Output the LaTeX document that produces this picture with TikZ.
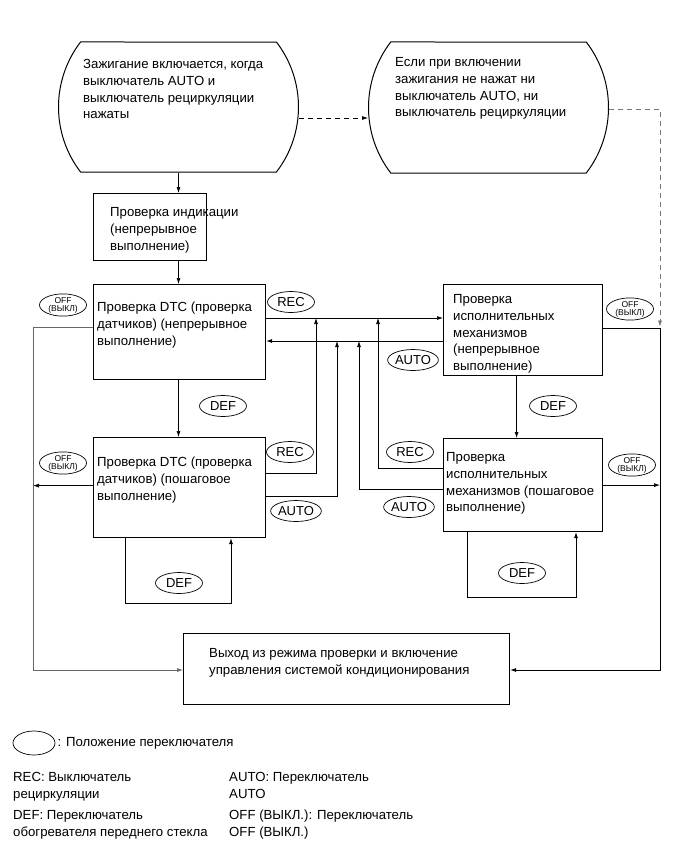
\documentclass[tikz,border=0pt]{standalone}
\usepackage{fontspec}
\setmainfont{Liberation Sans}
\usetikzlibrary{shapes.geometric,shapes.misc,arrows.meta}

\begin{document}
\begin{tikzpicture}[x=1pt,y=-1pt,
  >={Latex[length=6pt,width=4pt]},
  box/.style={draw,line width=1.2pt,anchor=north west,inner sep=0pt},
  capsule/.style={draw,line width=1pt,rounded rectangle,rounded rectangle arc length=75,anchor=west,inner sep=0pt},
  txt/.style={anchor=north west,inner sep=0pt,align=left,font=\fontsize{13.2}{16.7}\selectfont},
  sw/.style={draw,ellipse,line width=0.7pt,minimum width=47pt,minimum height=21pt,inner sep=0pt,font=\fontsize{13}{13}\selectfont},
  swoff/.style={sw,align=center,font=\fontsize{8.5}{8}\selectfont},
  line/.style={line width=0.7pt},
  dashline/.style={line width=0.7pt,dash pattern=on 5pt off 4pt}]
\useasboundingbox (0,0) rectangle (691,855);

\node[capsule,minimum width=240pt,minimum height=130pt] (startA) at (58,107) {};
\node[capsule,minimum width=240pt,minimum height=131pt] (startB) at (368,107.5) {};
\node[box,minimum width=113pt,minimum height=67pt] (ind) at (93,193) {};
\node[box,minimum width=172pt,minimum height=95pt] (dtcA) at (93,284) {};
\node[box,minimum width=172pt,minimum height=100pt] (dtcB) at (93,437) {};
\node[box,minimum width=159pt,minimum height=91pt] (actA) at (443,284) {};
\node[box,minimum width=159pt,minimum height=93pt] (actB) at (443,438) {};
\node[box,minimum width=326pt,minimum height=71pt] (exit) at (183,633) {};

\node[txt] (startAT) at (83,57) {\strut Зажигание включается, когда\\выключатель AUTO и\\выключатель рециркуляции\\нажаты};
\node[txt] (startBT) at (395,55) {\strut Если при включении\\зажигания не нажат ни\\выключатель AUTO, ни\\выключатель рециркуляции};
\node[txt] (indT) at (110,205) {\strut Проверка индикации\\(непрерывное\\выполнение)};
\node[txt] (dtcAT) at (97,300) {\strut Проверка DTC (проверка\\датчиков) (непрерывное\\выполнение)};
\node[txt] (dtcBT) at (97,455) {\strut Проверка DTC (проверка\\датчиков) (пошаговое\\выполнение)};
\node[txt] (actAT) at (453,292) {\strut Проверка\\исполнительных\\механизмов\\(непрерывное\\выполнение)};
\node[txt] (actBT) at (446,450) {\strut Проверка\\исполнительных\\механизмов (пошаговое\\выполнение)};
\node[txt] (exitT) at (209,646) {\strut Выход из режима проверки и включение\\управления системой кондиционирования};

\coordinate (railL) at (33,670);
\coordinate (railR) at (660,670);
\coordinate (upRecB) at (316,318);
\coordinate (upAutoB) at (337,341);
\coordinate (upAutoC) at (359,341);
\coordinate (upRecC) at (378,318);
\coordinate (loopB) at (231,603);
\coordinate (loopC) at (576,597);
\coordinate (dA) at ([yshift=-11pt]startA.east);
\coordinate (dB) at ([yshift=-1.5pt]startB.east);
\coordinate (offA) at ([yshift=4.5pt]dtcA.west);
\coordinate (offB) at ([yshift=2pt]dtcB.west);
\coordinate (offR) at ([yshift=1.5pt]actA.east);
\coordinate (recB) at ([yshift=14pt]dtcB.east);
\coordinate (autoB) at ([yshift=-9pt]dtcB.east);
\coordinate (recC) at ([yshift=16.5pt]actB.west);
\coordinate (autoC) at ([yshift=-4.5pt]actB.west);

\draw[line,->] (startA.south) -- (startA.south |- ind.north);
\draw[line,->] (startA.south |- ind.south) -- (startA.south |- dtcA.north);
\draw[line,->] (startA.south |- dtcA.south) -- (startA.south |- dtcB.north);
\draw[line,->] ([xshift=-6.5pt]actA.south) -- ([xshift=-6.5pt]actB.north);
\draw[dashline,->] (dA) -- (dA -| startB.west);
\draw[dashline,black!55,->,shorten >=2pt] (dB) -| (railR |- offR);
\draw[line,->] (dtcA.east |- upRecB) -- (actA.west |- upRecB);
\draw[line,->] (actA.west |- upAutoB) -- (dtcA.east |- upAutoB);
\draw[line,black!60,->] (offA) -| (railL) -- (exit.west |- railL);
\draw[line,->] (offR) -| (railR) -- (exit.east |- railR);
\draw[line,->] (offB) -- (offB -| railL);
\draw[line,->] (actB.east) -- (actB.east -| railR);
\draw[line,->] (recB) -| (upRecB);
\draw[line,->] (autoB) -| (upAutoB);
\draw[line,->] (recC) -| (upRecC);
\draw[line,->] (autoC) -| (upAutoC);
\draw[line,->] ([xshift=-54pt]dtcB.south) |- (loopB) -- (loopB |- dtcB.south);
\draw[line,->] ([xshift=-55.5pt]actB.south) |- (loopC) -- (loopC |- actB.south);

\node[swoff] (offSwA) at (63,305) {OFF\\(ВЫКЛ)};
\node[swoff] (offSwB) at (63,463) {OFF\\(ВЫКЛ)};
\node[swoff] (offSwC) at (630,309) {OFF\\(ВЫКЛ)};
\node[swoff] (offSwD) at (632,465) {OFF\\(ВЫКЛ)};
\node[sw] (recSwA) at (291,302) {REC};
\node[sw] (recSwB) at (290,452) {REC};
\node[sw] (recSwC) at (410,452) {REC};
\node[sw] (autoSwA) at (413,360) {AUTO};
\node[sw] (autoSwB) at (296,511) {AUTO};
\node[sw] (autoSwC) at (409,507) {AUTO};
\node[sw] (defSwA) at (223,406) {DEF};
\node[sw] (defSwB) at (553,406) {DEF};
\node[sw] (defSwC) at (179,583) {DEF};
\node[sw] (defSwD) at (522,573) {DEF};

\node[sw,minimum width=42pt,minimum height=24pt] (legSw) at (34,743) {};
\node[txt,anchor=west] (legSwT) at ([xshift=2pt]legSw.east) {: Положение переключателя};
\node[txt] (legRec) at (13,770) {\strut REC: Выключатель\\рециркуляции};
\node[txt] (legDef) at (13,808) {\strut DEF: Переключатель\\обогревателя переднего стекла};
\node[txt] (legAuto) at (229,770) {\strut AUTO: Переключатель\\AUTO};
\node[txt] (legOff) at (229,808) {\strut OFF (ВЫКЛ.): Переключатель\\OFF (ВЫКЛ.)};
\end{tikzpicture}
\end{document}
